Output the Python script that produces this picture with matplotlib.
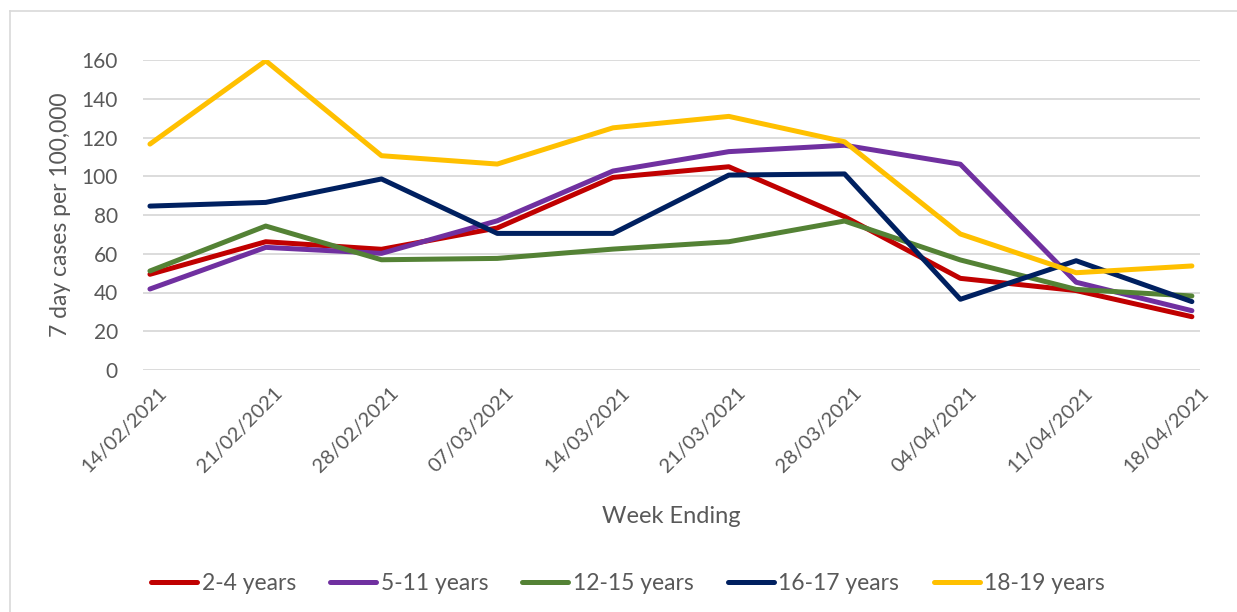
import matplotlib.pyplot as plt
import matplotlib.transforms as mtransforms
from matplotlib.lines import Line2D

weeks = ["14/02/2021", "21/02/2021", "28/02/2021", "07/03/2021", "14/03/2021",
         "21/03/2021", "28/03/2021", "04/04/2021", "11/04/2021", "18/04/2021"]

age_2_4 = [49.4, 66.2, 62.3, 73.3, 99.4, 104.9, 79.1, 47.3, 41.0, 27.5]
age_5_11 = [41.8, 63.3, 60.2, 77.0, 102.7, 112.7, 116.0, 106.2, 45.3, 30.6]
age_12_15 = [51.1, 74.3, 56.9, 57.6, 62.4, 66.2, 76.9, 56.8, 41.6, 38.2]
age_16_17 = [84.6, 86.5, 98.6, 70.5, 70.5, 100.6, 101.2, 36.5, 56.4, 35.3]
age_18_19 = [116.6, 159.6, 110.6, 106.3, 125.0, 130.9, 117.8, 70.2, 50.2, 53.7]

series = [
    ("2-4 years", age_2_4, "#C00000"),
    ("5-11 years", age_5_11, "#7030A0"),
    ("12-15 years", age_12_15, "#548235"),
    ("16-17 years", age_16_17, "#002060"),
    ("18-19 years", age_18_19, "#FFC000"),
]

plt.rcParams["font.family"] = ["Lato", "DejaVu Sans"]
txt = "#595959"

fig = plt.figure(figsize=(12.37, 6.12), dpi=100)
ax = fig.add_axes([143 / 1237, 1 - 370 / 612, 1057 / 1237, 310 / 612])

x = list(range(len(weeks)))
for label, vals, col in series:
    ax.plot(x, vals, color=col, lw=3.6, solid_capstyle="round",
            solid_joinstyle="round", label=label, zorder=3)

ax.set_ylim(0, 160)
ax.set_xlim(-0.06, 9.07)
ax.set_yticks(range(0, 161, 20))
ax.set_xticks(x)
ax.set_xticklabels(weeks, rotation=45, ha="right", rotation_mode="anchor")
ax.tick_params(axis="both", length=0, colors=txt, labelsize=15)
ax.tick_params(axis="x", labelsize=14.5, pad=10)
ax.tick_params(axis="y", pad=18)
shift = mtransforms.ScaledTranslation(0.08, 0, fig.dpi_scale_trans)
for lab in ax.get_xticklabels():
    lab.set_transform(lab.get_transform() + shift)
ax.grid(axis="y", color="#d9d9d9", lw=1.3)
ax.set_axisbelow(True)
for s in ax.spines.values():
    s.set_visible(False)

ax.set_ylabel("7 day cases per 100,000", color=txt, fontsize=16.5, labelpad=8)
ax.set_xlabel("Week Ending", color=txt, fontsize=17, labelpad=22)

handles = [Line2D([0], [0], color=c, lw=3.6, solid_capstyle="round") for _, _, c in series]
fig.legend(handles, [s[0] for s in series], loc="center", ncol=5,
           bbox_to_anchor=(628 / 1237, 1 - 584 / 612), frameon=False,
           fontsize=16.5, labelcolor=txt, handlelength=2.0, handletextpad=0.2,
           columnspacing=1.5)

# chart border (top and left visible)
fig.add_artist(Line2D([10 / 1237, 1], [1 - 11 / 612, 1 - 11 / 612],
                      color="#d9d9d9", lw=1.2, transform=fig.transFigure))
fig.add_artist(Line2D([10 / 1237, 10 / 1237], [0, 1 - 11 / 612],
                      color="#d9d9d9", lw=1.2, transform=fig.transFigure))

fig.savefig("out.png", dpi=100)
plt.close(fig)
